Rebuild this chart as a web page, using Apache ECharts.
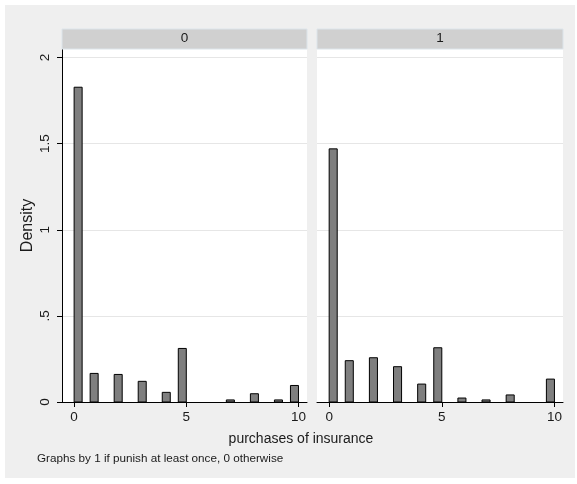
<!DOCTYPE html>
<html>
<head>
<meta charset="utf-8">
<script src="https://cdn.jsdelivr.net/npm/echarts@6/dist/echarts.min.js"></script>
<style>
  html, body { margin: 0; padding: 0; background: #ffffff; }
  #chart { width: 577px; height: 484px; }
</style>
</head>
<body>
<div id="chart"></div>
<script>
// Panels: one per value of the "punish" indicator
const facets = ['0', '1'];
// Observed purchase counts and their histogram densities in each panel
const purchaseValues = [0, 1, 2, 3, 4, 5, 6, 7, 8, 9, 10];
const densityGroup0 = [1.828, 0.166, 0.160, 0.120, 0.056, 0.311, 0, 0.012, 0.048, 0.012, 0.096];
const densityGroup1 = [1.470, 0.240, 0.257, 0.205, 0.104, 0.315, 0.023, 0.012, 0.041, 0, 0.133];
// Histogram binning: equal-width bins over the range
const binCount = 28;
const binRange = [0, 10];
// Axis ticks and labels
const xTicks = [0, 5, 10];
const yTicks = [0, 0.5, 1, 1.5, 2];
const yTickLabels = ['0', '.5', '1', '1.5', '2'];
const xTitle = 'purchases of insurance';
const yTitle = 'Density';
const note = 'Graphs by 1 if punish at least once, 0 otherwise';

const FONT = '"Liberation Sans", Arial, Helvetica, sans-serif';
const TEXT = '#1a1a1a';

// Each value falls in a right-closed bin [lo, hi]
function toBins(values, densities) {
  const w = (binRange[1] - binRange[0]) / binCount;
  const out = [];
  values.forEach((v, i) => {
    if (!densities[i]) return;
    let k = Math.ceil((v - binRange[0]) / w - 1e-9) - 1;
    if (k < 0) k = 0;
    out.push([binRange[0] + k * w, binRange[0] + (k + 1) * w, densities[i]]);
  });
  return out;
}

const groups = [densityGroup0, densityGroup1];

function renderBar(params, api) {
  const top = api.coord([api.value(0), api.value(2)]);
  const base = api.coord([api.value(1), 0]);
  return {
    type: 'rect',
    shape: { x: top[0], y: top[1], width: base[0] - top[0], height: base[1] - top[1] },
    style: { fill: '#7f7f7f', stroke: '#000000', lineWidth: 1 }
  };
}

const grids = [
  { left: 62, right: 270, top: 49, bottom: 82 },
  { left: 317, right: 14, top: 49, bottom: 82 }
].map(g => Object.assign(g, { show: true, backgroundColor: '#ffffff', borderWidth: 0 }));

const xAxes = [0, 1].map(i => ({
  gridIndex: i,
  type: 'value',
  min: -0.54,
  max: 10.38,
  axisLine: { show: true, onZero: false, lineStyle: { color: '#000', width: 1 } },
  axisTick: { show: true, length: 5, customValues: xTicks, lineStyle: { color: '#000' } },
  axisLabel: { customValues: xTicks, fontSize: 13.5, color: TEXT, fontFamily: FONT, margin: 8 },
  splitLine: { show: false }
}));

const yAxes = [0, 1].map(i => ({
  gridIndex: i,
  type: 'value',
  min: 0,
  max: 2.05,
  name: i === 0 ? yTitle : '',
  nameLocation: 'middle',
  nameGap: 26,
  nameTextStyle: { fontSize: 16, color: TEXT, fontFamily: FONT },
  axisLine: { show: i === 0, onZero: false, lineStyle: { color: '#000', width: 1 } },
  axisTick: { show: i === 0, length: 5, customValues: yTicks, lineStyle: { color: '#000' } },
  axisLabel: {
    show: i === 0,
    customValues: yTicks,
    rotate: 90,
    margin: 10,
    fontSize: 13.5,
    color: TEXT,
    fontFamily: FONT,
    formatter: v => {
      const k = yTicks.findIndex(t => Math.abs(t - v) < 1e-9);
      return k >= 0 ? yTickLabels[k] : '';
    }
  },
  splitLine: { show: true, lineStyle: { color: '#e6e6e6', width: 1 } }
}));

const series = groups.map((d, i) => ({
  type: 'custom',
  xAxisIndex: i,
  yAxisIndex: i,
  renderItem: renderBar,
  encode: { x: [0, 1], y: 2 },
  data: toBins(purchaseValues, d),
  clip: false,
  silent: true
}));

// Panel header strips
const strips = [[62, 307], [317, 563]].flatMap((r, i) => ([
  {
    type: 'rect', z: 10,
    shape: { x: r[0], y: 29, width: r[1] - r[0], height: 20 },
    style: { fill: '#d0d0d0', stroke: '#dce4ea', lineWidth: 1 }
  },
  {
    type: 'text', z: 11,
    x: (r[0] + r[1]) / 2, y: 38,
    style: { text: facets[i], font: '13.5px ' + FONT, fill: TEXT, align: 'center', verticalAlign: 'middle' }
  }
]));

const chart = echarts.init(document.getElementById('chart'), null, { renderer: 'canvas' });
chart.setOption({
  animation: false,
  backgroundColor: '#ffffff',
  grid: grids,
  xAxis: xAxes,
  yAxis: yAxes,
  series: series,
  graphic: [
    {
      type: 'rect', z: -10, silent: true,
      shape: { x: 5, y: 5, width: 570, height: 473 },
      style: { fill: '#efefef' }
    },
    ...strips,
    {
      type: 'text', z: 11,
      x: 301, y: 439,
      style: { text: xTitle, font: '14px ' + FONT, fill: TEXT, align: 'center', verticalAlign: 'middle' }
    },
    {
      type: 'text', z: 11,
      x: 37, y: 459,
      style: { text: note, font: '11.7px ' + FONT, fill: TEXT, align: 'left', verticalAlign: 'middle' }
    }
  ]
});
</script>
</body>
</html>
